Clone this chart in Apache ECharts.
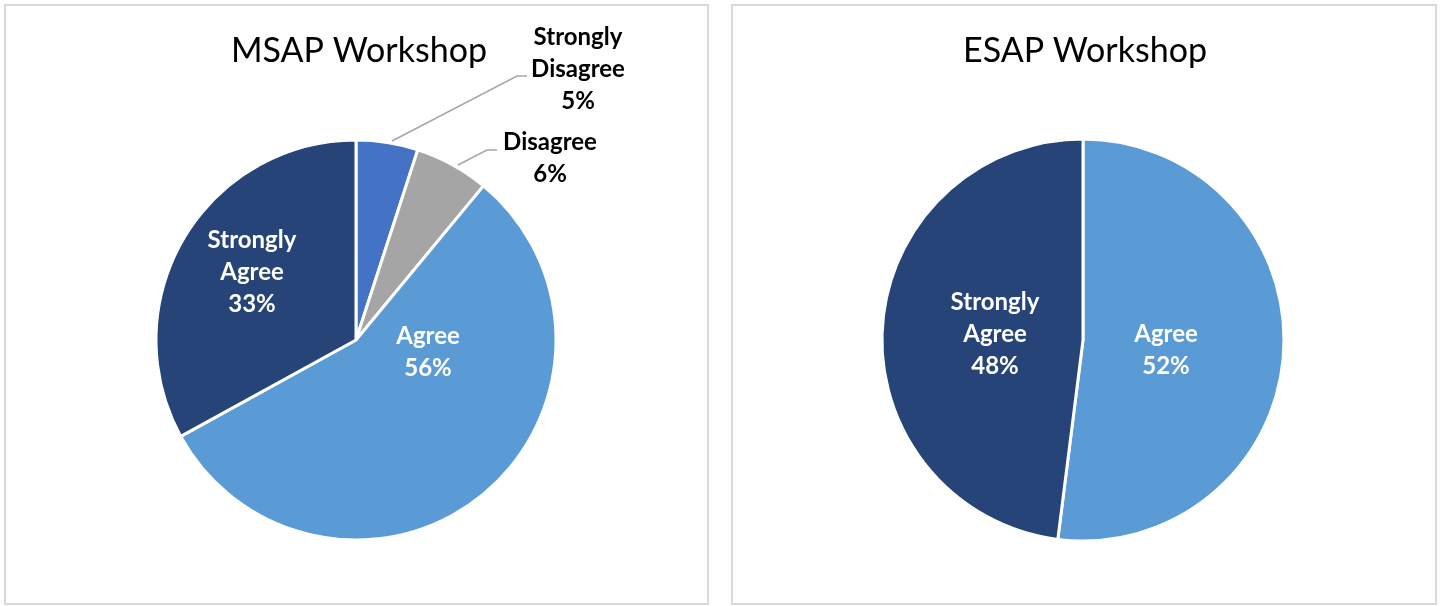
<!DOCTYPE html>
<html>
<head>
<meta charset="utf-8">
<script src="https://cdn.jsdelivr.net/npm/echarts@6/dist/echarts.min.js"></script>
<style>
html,body{margin:0;padding:0;background:#fff;}
#chart{width:1445px;height:606px;}
</style>
</head>
<body>
<div id="chart"></div>
<script>
// ---- data ----
const msapCategories = ['Strongly Disagree', 'Disagree', 'Agree', 'Strongly Agree'];
const msapValues = [5, 6, 56, 33];
const esapCategories = ['Agree', 'Strongly Agree'];
const esapValues = [52, 48];
const titles = ['MSAP Workshop', 'ESAP Workshop'];

const colorMap = {
  'Strongly Agree': '#264478',
  'Agree': '#5B9BD5',
  'Disagree': '#A5A5A5',
  'Strongly Disagree': '#4472C4'
};
const outsideCats = ['Strongly Disagree', 'Disagree'];

// label placement (layout only)
const labelLayouts = {
  0: {
    0: { x: 578, y: 69, line: [[392, 141], [517, 76], [527, 76]] },
    1: { x: 550, y: 158, line: [[458, 165], [487, 150], [497, 150]] },
    2: { x: 428, y: 352 },
    3: { x: 252, y: 272 }
  },
  1: {
    0: { x: 1166, y: 350 },
    1: { x: 995, y: 334 }
  }
};

function buildData(cats, vals) {
  return cats.map((c, i) => {
    const outside = outsideCats.indexOf(c) >= 0;
    return {
      name: c,
      value: vals[i],
      itemStyle: { color: colorMap[c] },
      label: {
        position: outside ? 'outside' : 'inside',
        color: outside ? '#000000' : '#ffffff'
      },
      labelLine: { show: outside }
    };
  });
}

const labelCommon = {
  show: true,
  formatter: function (p) {
    return p.name.replace(' ', '\n') + '\n' + p.value + '%';
  },
  fontFamily: 'Lato',
  fontWeight: 'bold',
  fontSize: 24,
  lineHeight: 32,
  align: 'center'
};

function makeLayout(seriesIndex) {
  return function (params) {
    const l = labelLayouts[seriesIndex][params.dataIndex];
    if (!l) return {};
    const o = { x: l.x, y: l.y, align: 'center', verticalAlign: 'middle' };
    if (l.line) o.labelLinePoints = l.line;
    return o;
  };
}

const chart = echarts.init(document.getElementById('chart'), null, { renderer: 'canvas' });
chart.setOption({
  animation: false,
  backgroundColor: '#ffffff',
  graphic: [
    { type: 'rect', shape: { x: 5, y: 5, width: 703, height: 599 }, style: { fill: 'none', stroke: '#d9d9d9', lineWidth: 2 }, silent: true },
    { type: 'rect', shape: { x: 732, y: 5, width: 704, height: 599 }, style: { fill: 'none', stroke: '#d9d9d9', lineWidth: 2 }, silent: true }
  ],
  title: [
    { text: titles[0], left: 354, top: 29, textAlign: 'center', textStyle: { fontFamily: 'Lato', fontWeight: 'normal', fontSize: 34, color: '#000' } },
    { text: titles[1], left: 1080, top: 29, textAlign: 'center', textStyle: { fontFamily: 'Lato', fontWeight: 'normal', fontSize: 34, color: '#000' } }
  ],
  series: [
    {
      type: 'pie',
      center: [356, 340],
      radius: 200,
      startAngle: 90,
      clockwise: true,
      avoidLabelOverlap: false,
      emphasis: { disabled: true },
      itemStyle: { borderColor: '#ffffff', borderWidth: 3 },
      label: labelCommon,
      labelLine: { lineStyle: { color: '#a6a6a6', width: 1.5 } },
      labelLayout: makeLayout(0),
      data: buildData(msapCategories, msapValues)
    },
    {
      type: 'pie',
      center: [1083, 340],
      radius: 201,
      startAngle: 90,
      clockwise: true,
      avoidLabelOverlap: false,
      emphasis: { disabled: true },
      itemStyle: { borderColor: '#ffffff', borderWidth: 3 },
      label: labelCommon,
      labelLayout: makeLayout(1),
      data: buildData(esapCategories, esapValues)
    }
  ]
});
</script>
</body>
</html>
